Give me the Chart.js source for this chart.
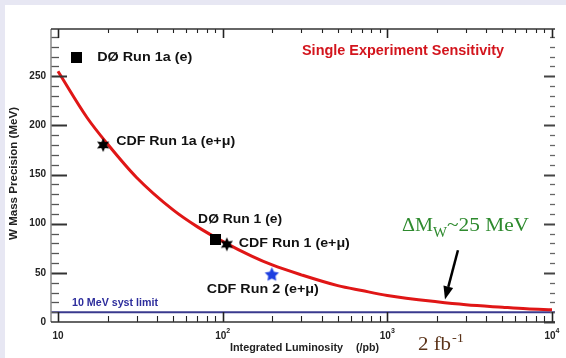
<!DOCTYPE html>
<html>
<head>
<meta charset="utf-8">
<script src="https://cdn.jsdelivr.net/npm/chart.js@4.4.0/dist/chart.umd.min.js"></script>
<style>
  html, body { margin: 0; padding: 0; background: #e7e7f3; }
  #marco { position: relative; width: 566px; height: 358px; overflow: hidden; }
  #papel { position: absolute; left: 5px; top: 5px; right: 0; bottom: 0; background: #fff; }
  #grafico { position: absolute; left: 0; top: 0; }
</style>
</head>
<body>
<div id="marco">
  <div id="papel"></div>
  <canvas id="grafico" width="566" height="358"></canvas>
</div>
<script>
// curva de sensibilidad (un experimento)
const lumiCurva = [10, 15, 20, 30, 50, 70, 100, 150, 200, 300, 500, 700, 1000, 2000, 3000, 5000, 7000, 10000];
const precisionCurva = [255, 208, 181, 147, 114, 97, 82, 67, 58, 48, 37, 32, 27, 20.5, 17.5, 15, 13.5, 12.5];

// limite sistematico de 10 MeV
const limiteLumi = [9.07, 10430];
const limiteValor = [10, 10];

// medidas
const medidas = ['DØ Run 1a (e)', 'CDF Run 1a (e+μ)', 'DØ Run 1 (e)', 'CDF Run 1 (e+μ)', 'CDF Run 2 (e+μ)'];
const medidasLumi = [12.9, 18.8, 90, 106, 199];
const medidasValor = [269, 180, 84, 79, 48];

// ejes
const xTicks = [10, 100, 1000, 10000];
const xTickExp = ['', '2', '3', '4'];
const yTicks = [0, 50, 100, 150, 200, 250];

// flecha del texto ΔMW (lumi, valor)
const flechaDesde = [2685, 73];
const flechaHasta = [2240, 23];

const SANS = "'Liberation Sans', Arial, sans-serif";
const SERIF = "'Liberation Serif', 'Times New Roman', serif";

function estrella(puntas, rExt, rInt, color) {
    const c = document.createElement('canvas');
    const s = Math.ceil(rExt * 2) + 2;
    c.width = s; c.height = s;
    const g = c.getContext('2d');
    g.translate(s / 2, s / 2);
    g.beginPath();
    for (let i = 0; i < puntas * 2; i++) {
        const r = i % 2 === 0 ? rExt : rInt;
        const ang = -Math.PI / 2 + i * Math.PI / puntas;
        g.lineTo(r * Math.cos(ang), r * Math.sin(ang));
    }
    g.closePath();
    g.fillStyle = color;
    g.fill();
    return c;
}

function cuadrado(lado) {
    const c = document.createElement('canvas');
    c.width = lado; c.height = lado;
    const g = c.getContext('2d');
    g.fillStyle = '#000';
    g.fillRect(0, 0, lado, lado);
    return c;
}

// texto con ancho forzado (la figura original esta algo comprimida)
function texto(ctx, str, x, y, font, color, ancho, base) {
    ctx.save();
    ctx.font = font;
    ctx.fillStyle = color;
    ctx.textBaseline = base || 'middle';
    ctx.textAlign = 'left';
    const w = ctx.measureText(str).width;
    ctx.translate(x, y);
    if (ancho) ctx.scale(ancho / w, 1);
    ctx.fillText(str, 0, 0);
    ctx.restore();
}

function linea(ctx, x1, y1, x2, y2, color, grosor) {
    ctx.strokeStyle = color;
    ctx.lineWidth = grosor;
    ctx.beginPath();
    ctx.moveTo(x1, y1);
    ctx.lineTo(x2, y2);
    ctx.stroke();
}

const marcaNegra = estrella(6, 7, 3.6, '#000');
const marcaAzul = estrella(5, 7.5, 3.8, '#1d3fe0');
const marcas = [cuadrado(11), marcaNegra, cuadrado(11), marcaNegra, marcaAzul];

// desplazamiento y ancho de cada etiqueta respecto a su punto
const etiquetaDx = [21, 13, -17, 12, -65];
const etiquetaDy = [0, -4, -20, -1, 15];
const etiquetaAncho = [95, 119, 84, 111, 112];

const ejes = {
    id: 'ejes',
    afterDatasetsDraw(chart) {
        const { ctx, chartArea: a, scales: { x, y } } = chart;
        ctx.save();

        // ticks del eje y (izquierda y derecha)
        for (let v = 0; v <= 290; v += 10) {
            const py = Math.round(y.getPixelForValue(v)) + 0.5;
            const mayor = v % 50 === 0;
            if (v > 0) {
                linea(ctx, a.left, py, a.left + (mayor ? 16 : 8), py, mayor ? '#333' : '#555', mayor ? 2 : 1.3);
            }
            linea(ctx, a.right, py, a.right - (mayor ? 11 : 5), py, mayor ? '#444' : '#666', mayor ? 2 : 1.3);
        }

        // ticks del eje x (abajo y arriba)
        for (let d = 10; d <= 10000; d *= 10) {
            for (let m = 1; m <= 9; m++) {
                const v = d * m;
                if (v > x.max) break;
                const px = Math.round(x.getPixelForValue(v)) + 0.5;
                const mayor = m === 1;
                linea(ctx, px, a.bottom, px, a.bottom - (mayor ? 10 : 6), '#222', mayor ? 1.6 : 1.1);
                linea(ctx, px, a.top, px, a.top + (mayor ? 9 : 4), '#222', mayor ? 1.6 : 1.1);
            }
        }

        // bordes
        linea(ctx, a.left, a.top, a.left, a.bottom, '#888', 1.5);
        linea(ctx, a.left, a.top, a.right, a.top, '#333', 1.3);
        linea(ctx, a.left, a.bottom, a.right, a.bottom, '#333', 1.5);

        // etiquetas del eje y
        ctx.font = 'bold 10px ' + SANS;
        ctx.fillStyle = '#222';
        ctx.textAlign = 'right';
        ctx.textBaseline = 'middle';
        yTicks.forEach(v => ctx.fillText(String(v), a.left - 5, y.getPixelForValue(v)));

        // etiquetas del eje x
        xTicks.forEach((v, i) => {
            const px = x.getPixelForValue(v);
            ctx.font = 'bold 10px ' + SANS;
            const w1 = ctx.measureText('10').width;
            ctx.font = 'bold 7px ' + SANS;
            const w2 = xTickExp[i] ? ctx.measureText(xTickExp[i]).width : 0;
            const x0 = px - (w1 + w2) / 2;
            ctx.textAlign = 'left';
            ctx.font = 'bold 10px ' + SANS;
            ctx.fillText('10', x0, a.bottom + 14);
            if (xTickExp[i]) {
                ctx.font = 'bold 7px ' + SANS;
                ctx.fillText(xTickExp[i], x0 + w1, a.bottom + 9);
            }
        });

        // titulos de ejes
        texto(ctx, 'Integrated Luminosity', 230, 348, 'bold 10px ' + SANS, '#222', 113);
        texto(ctx, '(/pb)', 356, 348, 'bold 10px ' + SANS, '#222', 23);
        ctx.save();
        ctx.translate(14, 240);
        ctx.rotate(-Math.PI / 2);
        texto(ctx, 'W Mass Precision (MeV)', 0, 0, 'bold 10px ' + SANS, '#222', 133);
        ctx.restore();

        // etiquetas de las medidas
        medidas.forEach((nombre, i) => {
            const px = x.getPixelForValue(medidasLumi[i]);
            const py = y.getPixelForValue(medidasValor[i]);
            texto(ctx, nombre, px + etiquetaDx[i], py + etiquetaDy[i], 'bold 13px ' + SANS, '#111', etiquetaAncho[i]);
        });

        texto(ctx, 'Single Experiment Sensitivity', 302, 51, 'bold 14px ' + SANS, '#d3151d', 202);
        texto(ctx, '10 MeV syst limit', 72, 303, 'bold 10px ' + SANS, '#2d2d9c', 86);

        // ΔMW ~ 25 MeV
        texto(ctx, 'ΔM', 402, 231, '19px ' + SERIF, '#2e8a2e', 31, 'alphabetic');
        texto(ctx, 'W', 433, 237, '14px ' + SERIF, '#2e8a2e', 14, 'alphabetic');
        texto(ctx, '~25 MeV', 447, 231, '19px ' + SERIF, '#2e8a2e', 82, 'alphabetic');

        // 2 fb-1
        texto(ctx, '2 fb', 418, 350, '19px ' + SERIF, '#5a3218', 33, 'alphabetic');
        texto(ctx, '-1', 452, 342, '12px ' + SERIF, '#5a3218', 12, 'alphabetic');

        // flecha
        const fx1 = x.getPixelForValue(flechaDesde[0]), fy1 = y.getPixelForValue(flechaDesde[1]);
        const fx2 = x.getPixelForValue(flechaHasta[0]), fy2 = y.getPixelForValue(flechaHasta[1]);
        const ang = Math.atan2(fy2 - fy1, fx2 - fx1);
        const largo = 13, medio = 5;
        const bx = fx2 - largo * Math.cos(ang), by = fy2 - largo * Math.sin(ang);
        linea(ctx, fx1, fy1, bx, by, '#000', 2.5);
        ctx.fillStyle = '#000';
        ctx.beginPath();
        ctx.moveTo(fx2, fy2);
        ctx.lineTo(bx + medio * Math.sin(ang), by - medio * Math.cos(ang));
        ctx.lineTo(bx - medio * Math.sin(ang), by + medio * Math.cos(ang));
        ctx.closePath();
        ctx.fill();

        ctx.restore();
    }
};

document.addEventListener('DOMContentLoaded', () => {
    const ctx = document.getElementById('grafico').getContext('2d');

    new Chart(ctx, {
        type: 'scatter',
        data: {
            datasets: [
                {
                    label: 'Medidas',
                    data: medidasLumi.map((v, i) => ({ x: v, y: medidasValor[i] })),
                    pointStyle: marcas,
                    pointRadius: 6,
                    order: 0
                },
                {
                    type: 'line',
                    label: 'Single Experiment Sensitivity',
                    data: lumiCurva.map((v, i) => ({ x: v, y: precisionCurva[i] })),
                    borderColor: '#e01616',
                    borderWidth: 3,
                    pointRadius: 0,
                    cubicInterpolationMode: 'monotone',
                    fill: false,
                    order: 1
                },
                {
                    type: 'line',
                    label: '10 MeV syst limit',
                    data: limiteLumi.map((v, i) => ({ x: v, y: limiteValor[i] })),
                    borderColor: '#3a3a8e',
                    borderWidth: 2,
                    pointRadius: 0,
                    fill: false,
                    order: 2
                }
            ]
        },
        options: {
            responsive: false,
            animation: false,
            devicePixelRatio: 1,
            layout: { autoPadding: false, padding: { left: 51, right: 11, top: 29, bottom: 36 } },
            plugins: {
                legend: { display: false },
                tooltip: { enabled: false }
            },
            scales: {
                x: { type: 'logarithmic', min: 9.07, max: 10430, display: false },
                y: { type: 'linear', min: 0, max: 298, display: false }
            }
        },
        plugins: [ejes]
    });
});
</script>
</body>
</html>
